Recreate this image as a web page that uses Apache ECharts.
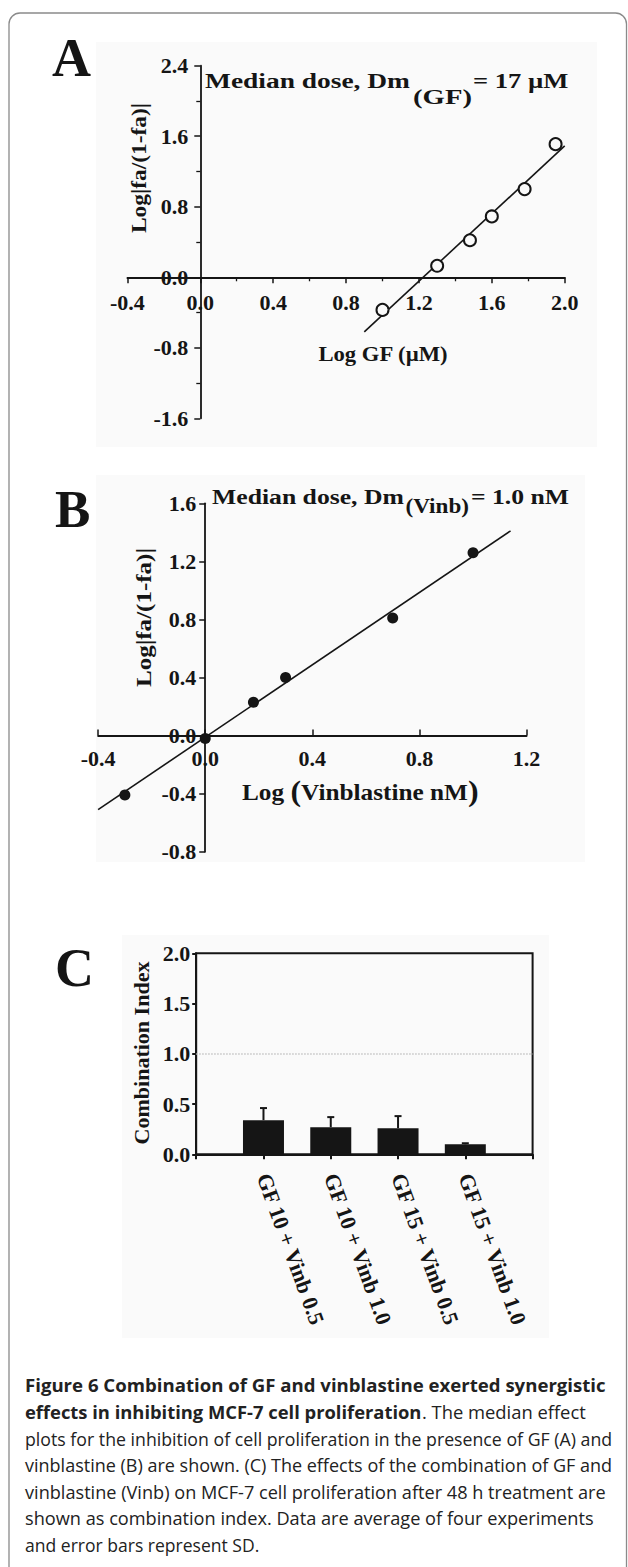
<!DOCTYPE html>
<html><head><meta charset="utf-8">
<script src="https://cdn.jsdelivr.net/npm/echarts@6/dist/echarts.min.js"></script>
<style>html,body{margin:0;padding:0;background:#fff}#c{width:628px;height:1567px}</style>
</head><body><div id="c"></div>
<script>
// ---------- Panel A: median-effect plot for GF ----------
const gfLogDose   = [1.00, 1.30, 1.48, 1.60, 1.78, 1.95];
const gfLogEffect = [-0.37, 0.13, 0.42, 0.69, 1.00, 1.51];
const gfFitX = [0.90, 2.00];
const gfFitY = [-0.62, 1.49];
const aXRange = [-0.4, 2.0, 0.4];   // min, max, step
const aYRange = [-1.6, 2.4, 0.8];

// ---------- Panel B: median-effect plot for vinblastine ----------
const vinLogDose   = [-0.30, 0.00, 0.18, 0.30, 0.70, 1.00];
const vinLogEffect = [-0.41, -0.02, 0.23, 0.40, 0.81, 1.26];
const vinFitX = [-0.40, 1.14];
const vinFitY = [-0.51, 1.41];
const bXRange = [-0.4, 1.2, 0.4];
const bYRange = [-0.8, 1.6, 0.4];

// ---------- Panel C: combination index ----------
const comboLabels = ['GF 10 + Vinb 0.5', 'GF 10 + Vinb 1.0', 'GF 15 + Vinb 0.5', 'GF 15 + Vinb 1.0'];
const comboCI = [0.34, 0.27, 0.26, 0.10];
const comboSD = [0.12, 0.10, 0.12, 0.01];
const cYRange = [0, 2.0, 0.5];
const ciAdditivity = 1.0;

// ---------- texts ----------
const titleA = ['Median dose, Dm', '(GF)', '= 17 µM'];
const titleB = ['Median dose, Dm', '(Vinb)', '= 1.0 nM'];
const yNameAB = 'Log|fa/(1-fa)|';
const xNameA = 'Log GF (µM)';
const xNameB = ['Log ', '(', 'Vinblastine nM', ')'];
const yNameC = 'Combination Index';
const captionLines = [
  [['Figure 6 Combination of GF and vinblastine exerted synergistic', true]],
  [['effects in inhibiting MCF-7 cell proliferation', true], ['. The median effect', false]],
  [['plots for the inhibition of cell proliferation in the presence of GF (A) and', false]],
  [['vinblastine (B) are shown. (C) The effects of the combination of GF and', false]],
  [['vinblastine (Vinb) on MCF-7 cell proliferation after 48 h treatment are', false]],
  [['shown as combination index. Data are average of four experiments', false]],
  [['and error bars represent SD.', false]]
];

// ---------- helpers ----------
const SERIF = '"Liberation Serif", "Times New Roman", serif';
const SANS = '"Open Sans", "Noto Sans", sans-serif';
const INK = '#151515';
const mctx = document.createElement('canvas').getContext('2d');
function tw(text, size, weight, family) {
  mctx.font = weight + ' ' + size + 'px ' + family;
  return mctx.measureText(text).width;
}
function txt(text, x, y, size, weight, family, opts) {
  opts = opts || {};
  return {
    type: 'text', x: x, y: y, z: 100,
    rotation: opts.rotation || 0,
    scaleX: opts.scaleX || 1,
    style: {
      text: text, fill: opts.fill || INK,
      fontSize: size, fontWeight: weight, fontFamily: family,
      align: opts.align || 'left', verticalAlign: 'middle',
      textAlign: opts.align || 'left', textVerticalAlign: 'middle'
    }
  };
}
function fitH(text, x0, x1, y, size, weight, family) {
  const w = tw(text, size, weight, family);
  return txt(text, x0, y, size, weight, family, { scaleX: (x1 - x0) / w });
}
function fitV(text, cx, cy, len, size) {
  const w = tw(text, size, 'bold', SERIF);
  return txt(text, cx, cy, size, 'bold', SERIF, { rotation: Math.PI / 2, scaleX: len / w, align: 'center' });
}

const graphics = [];
graphics.push({ type: 'rect', z: -5, shape: { x: 9, y: 13, width: 617.5, height: 1620, r: 11 },
  style: { fill: 'none', stroke: '#8a8a8a', lineWidth: 1.3 } });
[[96, 42, 501, 405], [96, 475, 489, 387], [122, 935, 427, 403]].forEach(r => {
  graphics.push({ type: 'rect', z: -4, shape: { x: r[0], y: r[1], width: r[2], height: r[3] },
    style: { fill: '#fafafa' } });
});
graphics.push(txt('A', 52, 58, 54, 'bold', SERIF));
graphics.push(txt('B', 55, 509, 53, 'bold', SERIF));
graphics.push(txt('C', 55, 968, 54, 'bold', SERIF));
graphics.push(fitH(titleA[0], 205, 410, 80.5, 22, 'bold', SERIF));
graphics.push(fitH(titleA[1], 413, 472, 96.4, 22, 'bold', SERIF));
graphics.push(fitH(titleA[2], 473, 568.5, 80.5, 22, 'bold', SERIF));
graphics.push(fitH(titleB[0], 212, 404, 496.5, 22, 'bold', SERIF));
graphics.push(fitH(titleB[1], 405.5, 469, 506, 22, 'bold', SERIF));
graphics.push(fitH(titleB[2], 471, 569, 496.5, 22, 'bold', SERIF));
graphics.push(fitV(yNameAB, 139, 168, 130, 22));
graphics.push(fitH(xNameA, 318.4, 448.5, 354, 22, 'bold', SERIF));
graphics.push(fitV(yNameAB, 144, 617.5, 139, 22));
graphics.push(fitV(yNameC, 142, 1053, 183, 22));
(function () {
  const sizes = [23, 29, 23, 29];
  const ws = xNameB.map((t, i) => tw(t, sizes[i], 'bold', SERIF));
  const total = ws.reduce((a, b) => a + b, 0);
  const s = (478.6 - 242) / total;
  let x = 242;
  xNameB.forEach((t, i) => {
    graphics.push(txt(t, x, i % 2 ? 791 : 792, sizes[i], 'bold', SERIF, { scaleX: s }));
    x += ws[i] * s;
  });
})();
(function () {
  const left = 25, size = 18;
  const baselines = [1392, 1419, 1445.5, 1472, 1499, 1525.5, 1552];
  const rights = [606, 586, 612, 612, 606, 594, 259.5];
  captionLines.forEach((segs, li) => {
    const ws = segs.map(s => tw(s[0], size, s[1] ? 'bold' : 'normal', SANS));
    const total = ws.reduce((a, b) => a + b, 0);
    const sc = (rights[li] - left) / total;
    let x = left;
    segs.forEach((s, i) => {
      graphics.push(txt(s[0], x, baselines[li] - 7, size, s[1] ? 'bold' : 'normal', SANS,
        { scaleX: sc, fill: '#222' }));
      x += ws[i] * sc;
    });
  });
})();

// grid rectangles (layout)
const gA = { left: 127.4, top: 65.7, width: 437.3, height: 352.6 };
const gB = { left: 98.1, top: 503.3, width: 428.5, height: 348.4 };
const gC = { left: 196.2, top: 953.3, width: 336.4, height: 201 };
// offsets that put each axis through the other axis' zero
const zeroOffX = (g, yr) => -g.height * (0 - yr[0]) / (yr[1] - yr[0]);
const zeroOffY = (g, xr) => -g.width * (0 - xr[0]) / (xr[1] - xr[0]);

const labelStyle = (margin) => ({
  show: true, margin: margin, fontFamily: SERIF, fontWeight: 'bold', fontSize: 22, color: INK,
  formatter: v => Number(v).toFixed(1), hideOverlap: false
});
const lineAx = (w) => ({ show: true, onZero: false, lineStyle: { color: INK, width: w } });

const option = {
  animation: false,
  backgroundColor: '#ffffff',
  graphic: { elements: graphics },
  grid: [
    Object.assign({ outerBoundsMode: 'none', containLabel: false }, gA),
    Object.assign({ outerBoundsMode: 'none', containLabel: false }, gB),
    Object.assign({ show: true, borderColor: INK, borderWidth: 2, backgroundColor: 'transparent',
      outerBoundsMode: 'none', containLabel: false }, gC)
  ],
  xAxis: [
    { gridIndex: 0, type: 'value', position: 'bottom', offset: zeroOffX(gA, aYRange),
      min: aXRange[0], max: aXRange[1], interval: aXRange[2],
      axisLine: lineAx(1.8), axisTick: { show: true, length: 6, lineStyle: { color: INK, width: 1.5 } },
      minorTick: { show: true, splitNumber: 2, length: 4, lineStyle: { color: INK, width: 1.3 } },
      splitLine: { show: false }, minorSplitLine: { show: false }, axisLabel: labelStyle(14) },
    { gridIndex: 1, type: 'value', position: 'bottom', offset: zeroOffX(gB, bYRange),
      min: bXRange[0], max: bXRange[1], interval: bXRange[2],
      axisLine: lineAx(1.8), axisTick: { show: true, inside: true, length: 6, lineStyle: { color: INK, width: 1.5 } },
      splitLine: { show: false }, axisLabel: labelStyle(12) },
    { gridIndex: 2, type: 'category', data: [''].concat(comboLabels, ['']), boundaryGap: false,
      axisLine: { show: true, onZero: false, lineStyle: { color: INK, width: 2 } },
      axisTick: { show: true, length: 5, interval: 0, lineStyle: { color: INK, width: 2 } },
      splitLine: { show: false },
      axisLabel: { show: true, interval: 0, rotate: -70, margin: 20, fontFamily: SERIF, fontWeight: 'bold',
        fontSize: 22, color: INK, hideOverlap: false } }
  ],
  yAxis: [
    { gridIndex: 0, type: 'value', position: 'left', offset: zeroOffY(gA, aXRange),
      min: aYRange[0], max: aYRange[1], interval: aYRange[2],
      axisLine: lineAx(1.8), axisTick: { show: true, length: 6, lineStyle: { color: INK, width: 1.5 } },
      minorTick: { show: true, splitNumber: 2, length: 4, lineStyle: { color: INK, width: 1.3 } },
      splitLine: { show: false }, minorSplitLine: { show: false }, axisLabel: labelStyle(12) },
    { gridIndex: 1, type: 'value', position: 'left', offset: zeroOffY(gB, bXRange),
      min: bYRange[0], max: bYRange[1], interval: bYRange[2],
      axisLine: lineAx(1.8), axisTick: { show: true, length: 6, lineStyle: { color: INK, width: 1.5 } },
      splitLine: { show: false }, axisLabel: labelStyle(9) },
    { gridIndex: 2, type: 'value', min: cYRange[0], max: cYRange[1], interval: cYRange[2],
      axisLine: { show: true, onZero: false, lineStyle: { color: INK, width: 2 } },
      axisTick: { show: true, length: 4, lineStyle: { color: INK, width: 2 } },
      splitLine: { show: false }, axisLabel: labelStyle(6) }
  ],
  series: [
    { type: 'line', xAxisIndex: 0, yAxisIndex: 0, silent: true, symbol: 'none', z: 3,
      data: gfFitX.map((x, i) => [x, gfFitY[i]]), lineStyle: { color: INK, width: 1.6 } },
    { type: 'scatter', xAxisIndex: 0, yAxisIndex: 0, symbol: 'circle', symbolSize: 12, z: 5,
      data: gfLogDose.map((x, i) => [x, gfLogEffect[i]]),
      itemStyle: { color: '#fafafa', borderColor: INK, borderWidth: 2, opacity: 1 } },
    { type: 'line', xAxisIndex: 1, yAxisIndex: 1, silent: true, symbol: 'none', z: 3,
      data: vinFitX.map((x, i) => [x, vinFitY[i]]), lineStyle: { color: INK, width: 1.6 } },
    { type: 'scatter', xAxisIndex: 1, yAxisIndex: 1, symbol: 'circle', symbolSize: 11, z: 5,
      data: vinLogDose.map((x, i) => [x, vinLogEffect[i]]),
      itemStyle: { color: INK, opacity: 1 } },
    { type: 'bar', xAxisIndex: 2, yAxisIndex: 2, barWidth: 41, z: 3,
      data: ['-'].concat(comboCI, ['-']), itemStyle: { color: INK },
      markLine: { silent: true, symbol: 'none', label: { show: false },
        lineStyle: { type: 'dotted', color: '#c4c4c4', width: 1.5 },
        data: [{ yAxis: ciAdditivity }] } },
    { type: 'custom', xAxisIndex: 2, yAxisIndex: 2, z: 6, silent: true,
      data: comboCI.map((v, i) => [i + 1, v, comboSD[i]]),
      encode: { x: 0, y: 1 },
      renderItem: function (params, api) {
        const base = api.coord([api.value(0), api.value(1)]);
        const top = api.coord([api.value(0), api.value(1) + api.value(2)]);
        const st = { stroke: INK, lineWidth: 2 };
        return { type: 'group', children: [
          { type: 'line', shape: { x1: base[0], y1: base[1], x2: top[0], y2: top[1] }, style: st },
          { type: 'line', shape: { x1: top[0] - 3.5, y1: top[1], x2: top[0] + 3.5, y2: top[1] }, style: st }
        ] };
      } }
  ]
};

const chart = echarts.init(document.getElementById('c'), null, { renderer: 'svg', width: 628, height: 1567 });
chart.setOption(option);
</script>
</body></html>
